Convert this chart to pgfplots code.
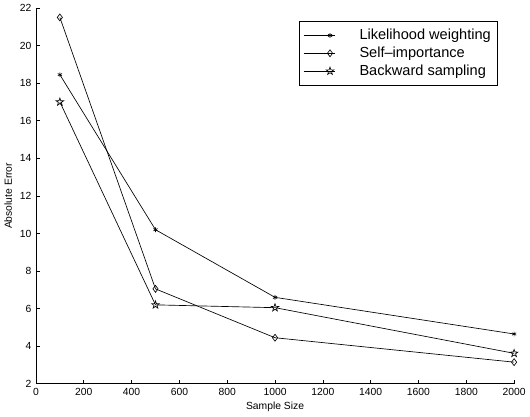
\documentclass[border=0pt]{standalone}
\usepackage{fontspec}
\setmainfont{Liberation Sans}
\usepackage{pgfplots}
\pgfplotsset{compat=1.18}

% outlined five-pointed star, as in the reference
\pgfdeclareplotmark{pentagram}{%
  \pgfpathmoveto{\pgfpointpolar{90}{\pgfplotmarksize}}%
  \pgfpathlineto{\pgfpointpolar{126}{0.4\pgfplotmarksize}}%
  \pgfpathlineto{\pgfpointpolar{162}{\pgfplotmarksize}}%
  \pgfpathlineto{\pgfpointpolar{198}{0.4\pgfplotmarksize}}%
  \pgfpathlineto{\pgfpointpolar{234}{\pgfplotmarksize}}%
  \pgfpathlineto{\pgfpointpolar{270}{0.4\pgfplotmarksize}}%
  \pgfpathlineto{\pgfpointpolar{306}{\pgfplotmarksize}}%
  \pgfpathlineto{\pgfpointpolar{342}{0.4\pgfplotmarksize}}%
  \pgfpathlineto{\pgfpointpolar{18}{\pgfplotmarksize}}%
  \pgfpathlineto{\pgfpointpolar{54}{0.4\pgfplotmarksize}}%
  \pgfpathclose\pgfusepathqstroke}

\begin{document}
\begin{tikzpicture}
\begin{axis}[
    scale only axis,
    width=360.75pt, height=283.5pt,
    xmin=0, xmax=2000, ymin=2, ymax=22,
    xtick={0,200,...,2000}, ytick={2,4,...,22},
    axis x line*=bottom, axis y line*=left,
    tick align=inside,
    major tick length=3pt,
    axis line style={black, line width=0.6pt},
    tick style={black, line width=0.5pt},
    ticklabel style={font=\fontsize{7.8}{8}\selectfont},
    /pgf/number format/assume math mode=true,
    /pgf/number format/1000 sep={},
    xlabel={Sample Size}, ylabel={Absolute Error},
    label style={font=\fontsize{7.8}{8}\selectfont},
    xlabel style={yshift=2pt},
    ylabel style={yshift=-1pt},
    legend cell align=left,
    legend style={at={(0.966,0.966)}, anchor=north east,
        font=\fontsize{11}{12}\selectfont, draw=black, line width=0.6pt,
        row sep=0pt, inner xsep=3pt, inner ysep=4pt,
        /tikz/every odd column/.append style={column sep=16pt}},
    legend image code/.code={
        \draw[#1, mark=none] (0pt,0pt) -- (24pt,0pt);
        \draw[#1] plot coordinates {(20pt,0pt)};},
    every axis plot/.append style={black, line width=0.5pt, mark size=2.2pt},
]
% Likelihood weighting
\addplot[mark=asterisk, mark options={mark size=1.8pt}] coordinates {
    (100,18.45) (500,10.2) (1000,6.6) (2000,4.65)
};
\addlegendentry{Likelihood weighting}
% Self-importance
\addplot[mark=diamond, mark options={mark size=2.6pt}] coordinates {
    (100,21.5) (500,7.05) (1000,4.45) (2000,3.15)
};
\addlegendentry{Self–importance}
% Backward sampling
\addplot[mark=pentagram, mark options={mark size=3pt}] coordinates {
    (100,17.0) (500,6.2) (1000,6.05) (2000,3.62)
};
\addlegendentry{Backward sampling}
\end{axis}
\end{tikzpicture}
\end{document}
